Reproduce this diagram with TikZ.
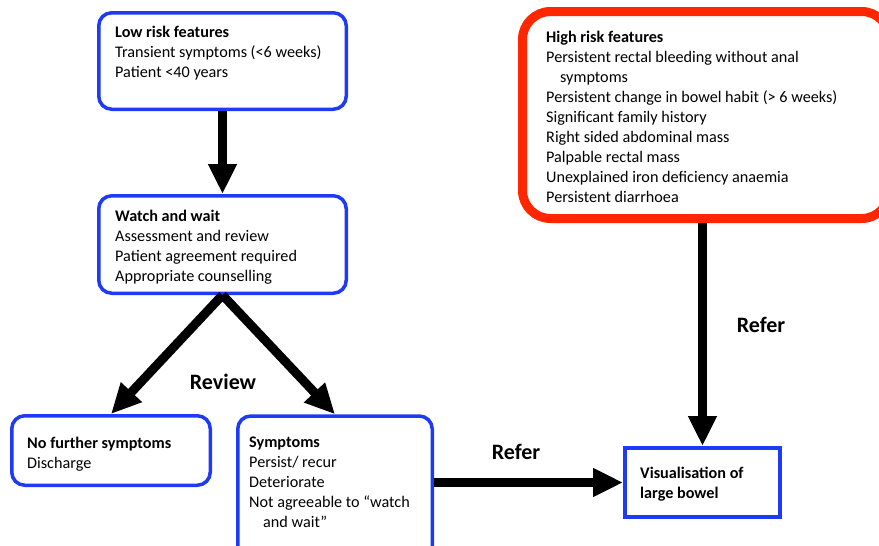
\documentclass[tikz,border=0pt]{standalone}
\usepackage{fontspec}
\setmainfont{Carlito}
\usetikzlibrary{arrows.meta,positioning}
\definecolor{flowblue}{RGB}{31,58,245}
\definecolor{flowred}{RGB}{255,38,0}
\tikzset{
  bluebox/.style={draw=flowblue,line width=3.5pt,rounded corners=13pt,inner sep=0pt},
  redbox/.style={draw=flowred,line width=9pt,rounded corners=28pt,inner sep=0pt},
  squarebox/.style={draw=flowblue,line width=4pt,inner sep=0pt},
  boxtext/.style={anchor=north west,align=left,inner sep=0pt,font=\fontsize{16.2}{20}\selectfont},
  biglabel/.style={inner sep=0pt,font=\fontsize{22}{24}\selectfont\bfseries},
  flowarrow/.style={line width=9pt,-{Triangle[length=30pt,width=27pt]}}
}
\begin{document}
\begin{tikzpicture}[x=1pt,y=-1pt]
\useasboundingbox (0,0) rectangle (879,546);
\clip (0,0) rectangle (879,546);
\coordinate (L) at (222.5,61);
\coordinate (W) at (222.5,244.5);
\coordinate (N) at (111,450.5);
\coordinate (S) at (335,497);
\coordinate (V) at (702.5,482.5);
\coordinate (H) at (706,115);
% boxes
\node[bluebox,minimum width=247.5pt,minimum height=96.5pt] (low) at (L) {};
\node[bluebox,minimum width=247.5pt,minimum height=97.5pt] (watch) at (W) {};
\node[bluebox,minimum width=198.5pt,minimum height=69.5pt] (nofurther) at (N) {};
\node[bluebox,minimum width=194.5pt,minimum height=162pt] (symptoms) at (S) {};
\node[squarebox,minimum width=155pt,minimum height=69pt] (visual) at (V) {};
\node[redbox,minimum width=367pt,minimum height=207pt] (high) at (H) {};
% texts
\node[boxtext] (lowtext) at (115,25.5) {\textbf{Low risk features}\\Transient symptoms (<6 weeks)\\Patient <40 years};
\node[boxtext] (watchtext) at (115,209.5) {\textbf{Watch and wait}\\Assessment and review\\Patient agreement required\\Appropriate counselling};
\node[boxtext] (hightext) at (546,31) {\textbf{High risk features}\\Persistent rectal bleeding without anal\\\hspace*{14pt}symptoms\\Persistent change in bowel habit (> 6 weeks)\\Significant family history\\Right sided abdominal mass\\Palpable rectal mass\\Unexplained iron deficiency anaemia\\Persistent diarrhoea};
\node[boxtext] (nofurthertext) at (27,436.5) {\textbf{No further symptoms}\\Discharge};
\node[boxtext] (symptomstext) at (249,436.5) {\textbf{Symptoms}\\Persist/ recur\\Deteriorate\\Not agreeable to “watch\\\hspace*{14pt}and wait”};
\node[boxtext] (visualtext) at (640,466.5) {\textbf{Visualisation of}\\\textbf{large bowel}};
% arrows
\draw[flowarrow] (low.south) -- (watch.north);
\draw[flowarrow] (watch.south) -- (nofurther.north);
\draw[flowarrow] (watch.south) -- (symptoms.north);
\draw[flowarrow] (symptoms.east |- visual.west) -- (visual.west);
\draw[flowarrow] (high.south -| visual.north) -- (visual.north);
\node[biglabel] (review) at (223,382) {Review};
\node[biglabel] (referdown) at (761,325) {Refer};
\node[biglabel] (referright) at (516,452) {Refer};
\end{tikzpicture}
\end{document}
